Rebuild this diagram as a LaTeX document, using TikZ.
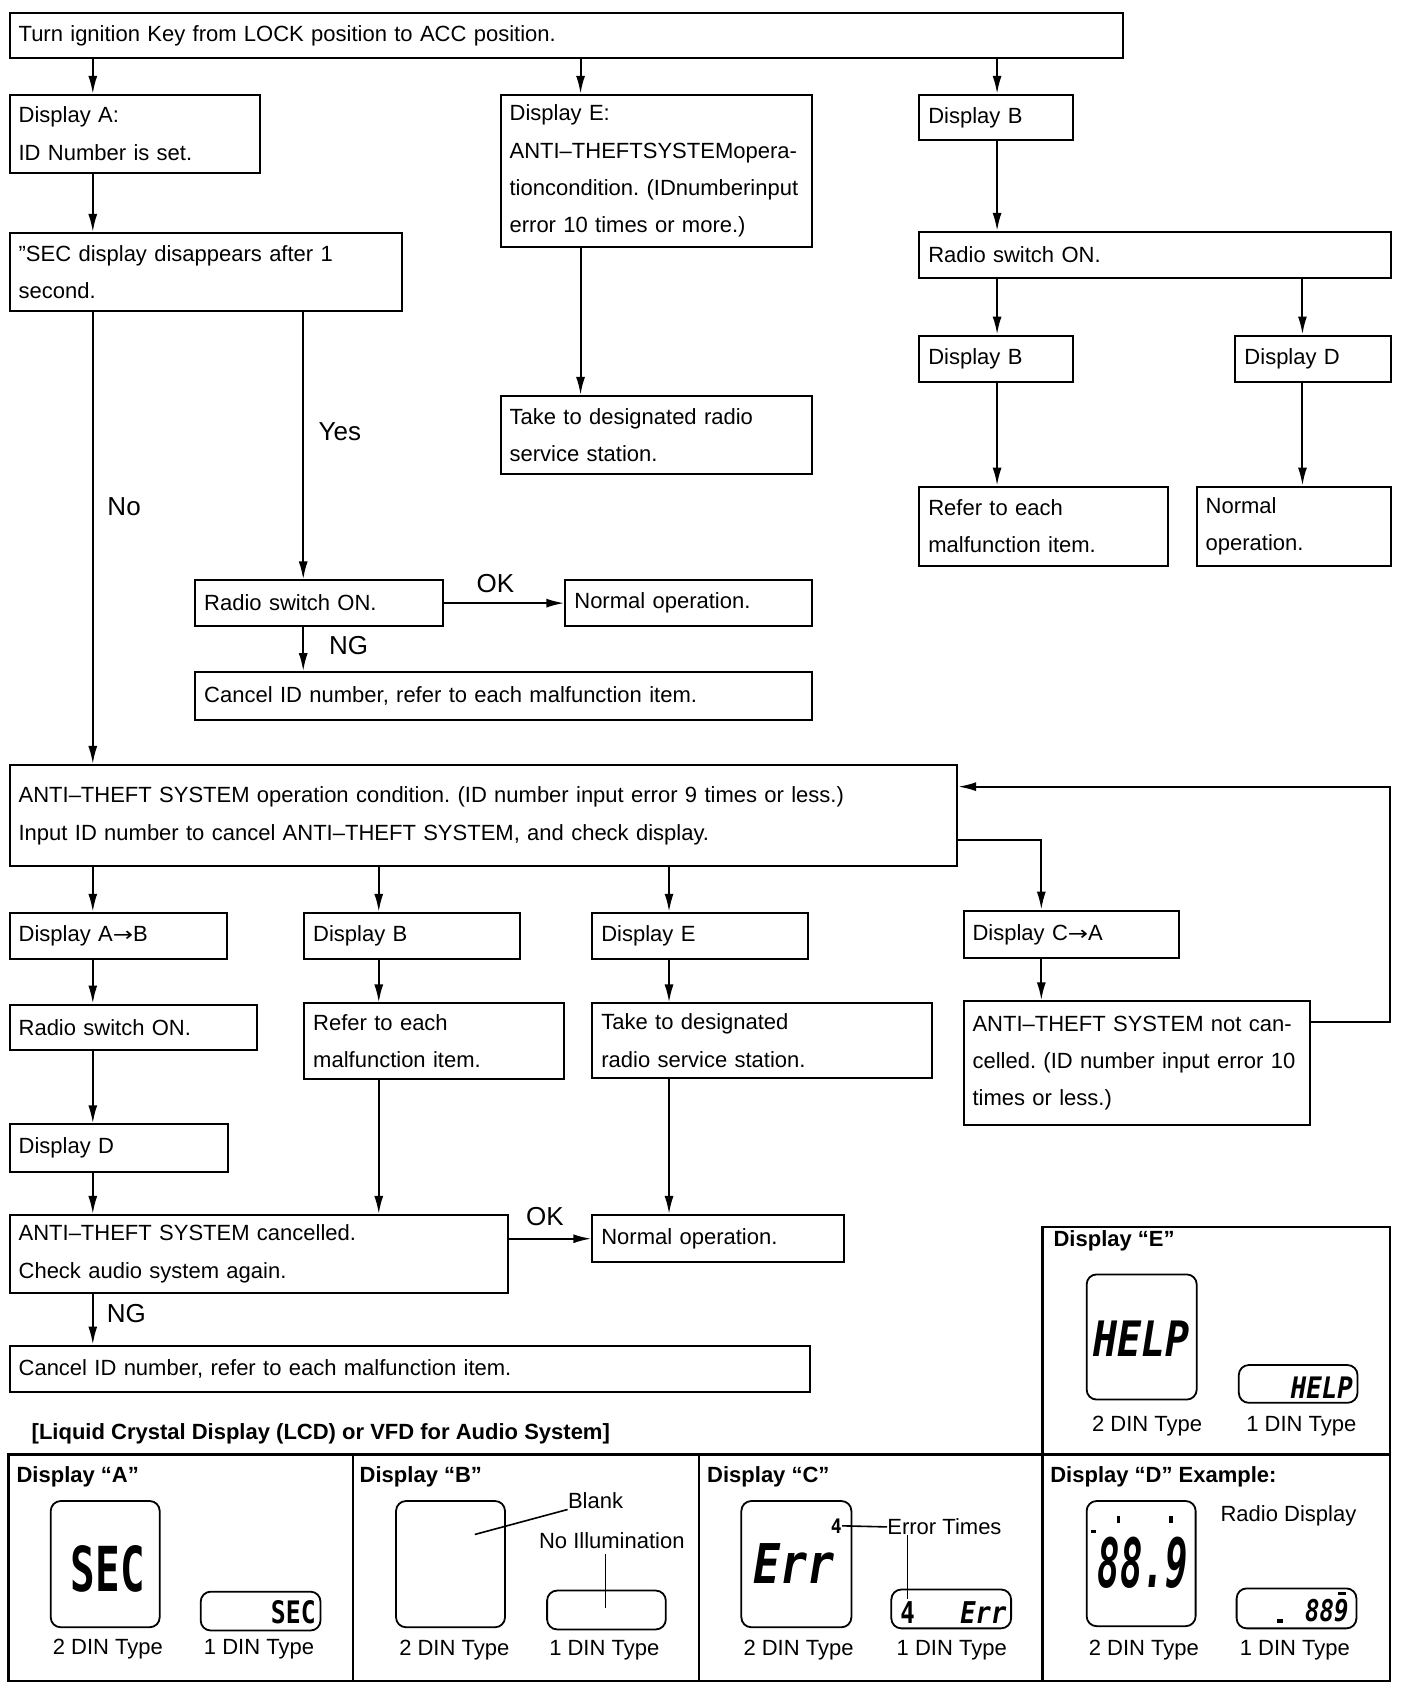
\documentclass[tikz,border=0pt]{standalone}
\usepackage{graphicx}
\usepackage{fontspec}
\setmainfont{Liberation Sans}
\newfontfamily\lcdfont{DejaVu Sans Mono}
\newfontfamily\symfont{DejaVu Sans}
\usetikzlibrary{arrows.meta}
\frenchspacing
\newcommand\varr[3]{\draw[arr] (#1.south -| #3,0) -- (#2.north -| #3,0);}
\newcommand\lcdtxt[3]{\fontsize{#1}{#1}\selectfont\lcdfont\bfseries\scalebox{#2}[1]{#3}}
\newcommand\lcdit[3]{\fontsize{#1}{#1}\selectfont\lcdfont\bfseries\itshape\scalebox{#2}[1]{#3}}
\newcommand\toarrow{{\symfont\scalebox{1.1}[0.9]{→}}}
\begin{document}
\begin{tikzpicture}[x=0.5395pt,y=-0.5395pt,
  every node/.style={font=\fontsize{11}{18.6}\selectfont, inner sep=0pt},
  box/.style 2 args={draw, line width=1pt, anchor=north west, inner xsep=4.5pt, inner ysep=0pt,
    minimum width=#1*0.5395pt, minimum height=#2*0.5395pt,
    /utils/exec={\pgfmathsetlengthmacro\boxtw{#1*0.5395pt-9pt}}, text width=\boxtw, align=left},
  arr/.style={line width=1pt, -{Latex[length=9pt,width=4.5pt]}},
  lbl/.style={font=\fontsize{13}{15}\selectfont},
  panel/.style={line width=1.2pt},
  lcd/.style={draw, line width=0.9pt, rounded corners=5pt},
  leader/.style={line width=0.8pt},
  ttl/.style={anchor=west, font=\fontsize{11}{13}\selectfont\bfseries},
  din/.style={font=\fontsize{11}{13}\selectfont}]
\useasboundingbox (0,0) rectangle (1305,1568);

% ---------- top part ----------
\node[box={1032}{42}] (start) at (8,11) {Turn ignition Key from LOCK position to ACC position.};
\node[box={232}{72}] (dA) at (8,87) {Display A:\\ID Number is set.};
\node[box={289}{141}] (dE) at (463,87) {Display E:\\ANTI–THEFTSYSTEMopera-\\tioncondition. (IDnumberinput\\error 10 times or more.)};
\node[box={142}{42}] (dB) at (851,87) {Display B};
\node[box={364}{72}] (sec) at (8,215) {”SEC display disappears after 1\\second.};
\node[box={289}{72}] (take1) at (463,366) {Take to designated radio\\service station.};
\node[box={437}{43}] (rs1) at (851,214) {Radio switch ON.};
\node[box={142}{43}] (dB2) at (851,310) {Display B};
\node[box={144}{43}] (dD1) at (1144,310) {Display D};
\node[box={230}{74}] (ref1) at (851,450) {Refer to each\\malfunction item.};
\node[box={180}{74}] (norm1) at (1108,450) {Normal\\operation.};
\node[box={230}{42}] (rs2) at (180,537) {Radio switch ON.};
\node[box={229}{42}] (norm2) at (523,537) {Normal operation.};
\node[box={572}{44}] (cancel1) at (180,622) {Cancel ID number, refer to each malfunction item.};

% ---------- middle ----------
\node[box={878}{94}] (big) at (8,708) {ANTI–THEFT SYSTEM operation condition. (ID number input error 9 times or less.)\\Input ID number to cancel ANTI–THEFT SYSTEM, and check display.};
\node[box={201}{43}] (dAB) at (8,845) {Display A\toarrow B};
\node[box={200}{43}] (dB3) at (281,845) {Display B};
\node[box={200}{43}] (dE2) at (548,845) {Display E};
\node[box={200}{44}] (dCA) at (892,843) {Display C\toarrow A};
\node[box={229}{42}] (rs3) at (8,930) {Radio switch ON.};
\node[box={241}{70}] (ref2) at (281,929) {Refer to each\\malfunction item.};
\node[box={315}{69}] (take2) at (548,929) {Take to designated\\radio service station.};
\node[box={321}{115}] (nc) at (892,927) {\makebox[\linewidth][s]{ANTI–THEFT SYSTEM not can-}\\\makebox[\linewidth][s]{celled. (ID number input error 10}\\times or less.)};
\node[box={202}{44}] (dD2) at (8,1041) {Display D};
\node[box={462}{72}] (canc) at (8,1125) {ANTI–THEFT SYSTEM cancelled.\\Check audio system again.};
\node[box={233}{44}] (norm3) at (548,1125) {Normal operation.};
\node[box={742}{43}] (cancel2) at (8,1246) {Cancel ID number, refer to each malfunction item.};

% ---------- connectors ----------
\varr{start}{dA}{86}
\varr{start}{dE}{538}
\varr{start}{dB}{924}
\varr{dA}{sec}{86}
\varr{dE}{take1}{538}
\varr{dB}{rs1}{924}
\varr{rs1}{dB2}{924}
\varr{rs1}{dD1}{1207}
\varr{dB2}{ref1}{924}
\varr{dD1}{norm1}{1207}
\varr{sec}{big}{86}
\varr{sec}{rs2}{281}
\draw[arr] (rs2.east) -- (norm2.west);
\varr{rs2}{cancel1}{281}
\varr{big}{dAB}{86}
\varr{big}{dB3}{351}
\varr{big}{dE2}{620}
\draw[arr] (big.east |- 0,778) -| (dCA.north -| 965,0);
\varr{dAB}{rs3}{86}
\varr{dB3}{ref2}{351}
\varr{dE2}{take2}{620}
\varr{dCA}{nc}{965}
\varr{rs3}{dD2}{86}
\varr{dD2}{canc}{86}
\varr{ref2}{canc}{351}
\varr{take2}{norm3}{620}
\draw[arr] (canc.east |- norm3.west) -- (norm3.west);
\varr{canc}{cancel2}{86}
\coordinate (fb) at (1288,729);
\draw[arr] (nc.east |- 0,947) -| (fb) -- (big.east |- fb);

% ---------- connector labels ----------
\node[lbl] (lNo) at (115,470) {No};
\node[lbl] (lYes) at (315,400) {Yes};
\node[lbl] (lOK1) at (459,541) {OK};
\node[lbl] (lNG1) at (323,598) {NG};
\node[lbl] (lOK2) at (505,1127) {OK};
\node[lbl] (lNG2) at (117,1217) {NG};

% ---------- LCD panel ----------
\node[anchor=west, font=\fontsize{11}{13}\selectfont\bfseries] (cap) at (29,1329) {[Liquid Crystal Display (LCD) or VFD for Audio System]};
\draw[panel] (8,1348) rectangle (1288,1558);
\draw[panel] (327,1348) -- (327,1558);
\draw[panel] (648,1348) -- (648,1558);
\draw[panel] (966,1348) -- (966,1558);
\draw[panel] (966,1137) rectangle (1288,1348);

% Display A
\node[ttl] (tA) at (15,1369) {Display “A”};
\draw[lcd] (47,1391) rectangle (148,1508);
\draw[lcd] (186,1475) rectangle (297,1511);
\node (secbig) at (100,1454) {\lcdtxt{31}{0.66}{SEC}};
\node[anchor=east] (secsm) at (293,1494) {\lcdtxt{15.5}{0.8}{SEC}};
\node[din] (a2) at (100,1528) {2 DIN Type};
\node[din] (a1) at (240,1528) {1 DIN Type};

% Display B
\node[ttl] (tB) at (333,1369) {Display “B”};
\draw[lcd] (367,1391) rectangle (468,1508);
\draw[lcd] (507,1474) rectangle (617,1510);
\node[anchor=west] (blank) at (526,1391) {Blank};
\coordinate (bl1) at (440,1422);
\draw[leader] (bl1) -- (blank.south west);
\node (noill) at (567,1428) {No Illumination};
\coordinate (nl1) at (561,1490);
\draw[leader] (noill.south -| nl1) ++(0,4) -- (nl1);
\node[din] (b2) at (421,1529) {2 DIN Type};
\node[din] (b1) at (560,1529) {1 DIN Type};

% Display C
\node[ttl] (tC) at (655,1369) {Display “C”};
\draw[lcd] (687,1391) rectangle (789,1508);
\draw[lcd] (826,1473) rectangle (937,1509);
\node (errbig) at (736,1449) {\lcdit{27.4}{0.82}{Err}};
\node (fourbig) at (775,1414) {\lcdtxt{10}{0.9}{4}};
\node[anchor=west] (errt) at (822,1415) {Error Times};
\draw[leader] (fourbig.east) -- (errt.west);
\coordinate (el1) at (841,1482);
\draw[leader] (errt.south west -| el1) -- (el1);
\node (foursm) at (841,1494) {\lcdtxt{15}{0.8}{4}};
\node[anchor=east] (errsm) at (933,1494) {\lcdit{15}{0.85}{Err}};
\node[din] (c2) at (740,1529) {2 DIN Type};
\node[din] (c1) at (882,1529) {1 DIN Type};

% Display D
\node[ttl] (tD) at (973,1369) {Display “D” Example:};
\draw[lcd] (1007,1391) rectangle (1108,1507);
\draw[lcd] (1146,1472) rectangle (1257,1509);
\node (fmbig) at (1059,1448) {\lcdit{34}{0.55}{88.9}};
\fill (1035,1405) rectangle (1038,1411);
\fill (1083,1405) rectangle (1087,1411);
\fill (1011,1418) rectangle (1016,1421);
\node (radio) at (1194,1405) {Radio Display};
\node[anchor=east] (fmsm) at (1250,1493) {\lcdit{15}{0.8}{889}};
\fill (1183,1500) rectangle (1189,1504);
\fill (1240,1475) rectangle (1247,1478);
\node[din] (d2) at (1060,1529) {2 DIN Type};
\node[din] (d1) at (1200,1529) {1 DIN Type};

% Display E
\node[ttl] (tE) at (976,1150) {Display “E”};
\draw[lcd] (1007,1181) rectangle (1109,1297);
\draw[lcd] (1148,1265) rectangle (1258,1300);
\node (helpbig) at (1058,1241) {\lcdit{24.4}{0.82}{HELP}};
\node[anchor=east] (helpsm) at (1254,1286) {\lcdit{14.8}{0.87}{HELP}};
\node[din] (e2) at (1063,1322) {2 DIN Type};
\node[din] (e1) at (1206,1322) {1 DIN Type};
\end{tikzpicture}
\end{document}
